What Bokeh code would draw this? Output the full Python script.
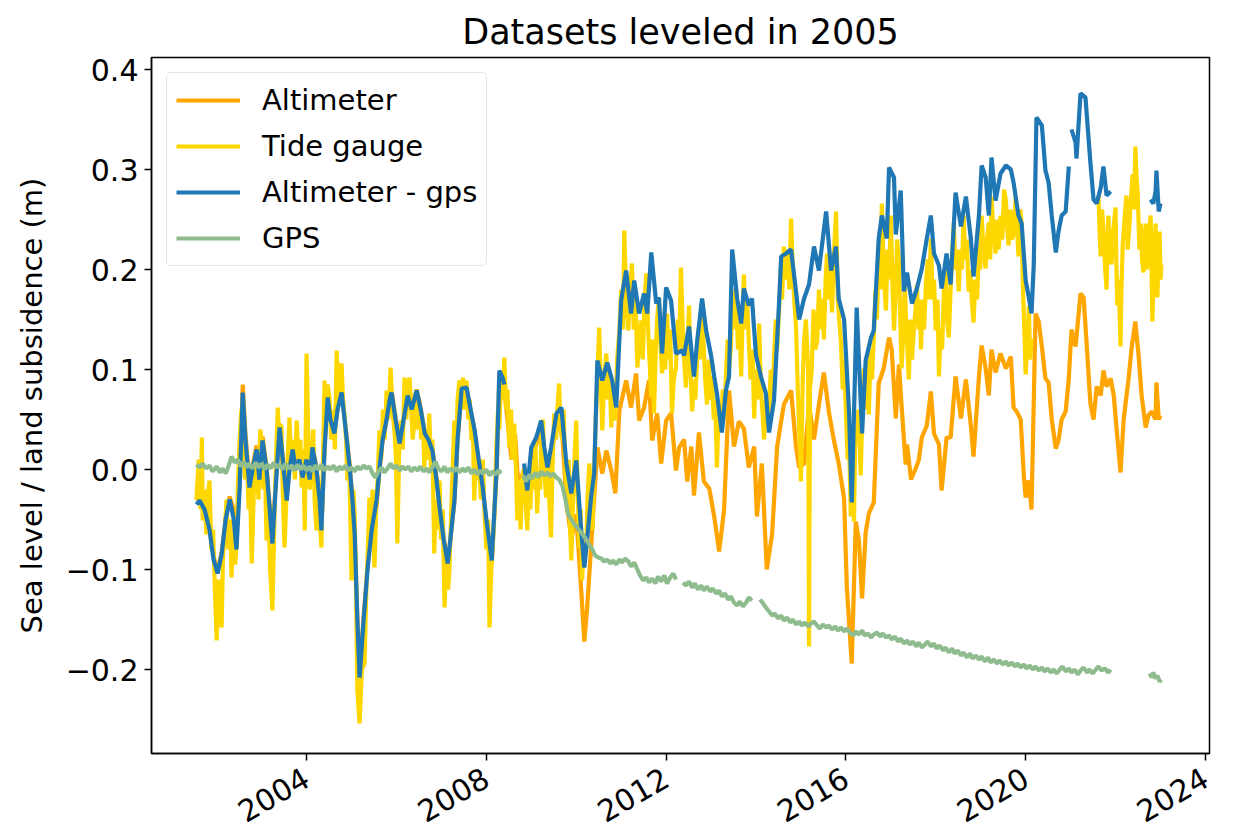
import math
from bokeh.plotting import figure
from bokeh.models import FixedTicker, CustomJSTickFormatter, Range1d, Legend, LegendItem
from bokeh.embed import file_html
from bokeh.resources import INLINE

nan = float("nan")

# ---------------- data (decimal years, metres) ----------------
alt_gps_years = [
    2001.55, 2001.62, 2001.73, 2001.84, 2001.93, 2002.02, 2002.11, 2002.20, 2002.29, 2002.38,
    2002.44, 2002.51, 2002.58, 2002.64, 2002.73, 2002.80, 2002.89, 2002.95, 2003.02, 2003.11,
    2003.18, 2003.24, 2003.31, 2003.40, 2003.47, 2003.56, 2003.62, 2003.69, 2003.76, 2003.84,
    2003.91, 2004.00, 2004.07, 2004.13, 2004.22, 2004.29, 2004.33, 2004.40, 2004.47, 2004.53,
    2004.62, 2004.69, 2004.78, 2004.87, 2004.96, 2005.02, 2005.07, 2005.13, 2005.18, 2005.27,
    2005.36, 2005.45, 2005.56, 2005.62, 2005.69, 2005.78, 2005.85, 2005.89, 2005.98, 2006.07,
    2006.16, 2006.25, 2006.34, 2006.45, 2006.54, 2006.63, 2006.71, 2006.80, 2006.89, 2006.96,
    2007.05, 2007.14, 2007.20, 2007.29, 2007.36, 2007.45, 2007.56, 2007.65, 2007.74, 2007.83,
    2007.92, 2008.00, 2008.12, 2008.18, 2008.23, 2008.29, 2008.36, 2008.40, 2008.60,
    2008.84, 2008.91, 2009.00, 2009.11, 2009.22, 2009.29, 2009.36, 2009.44, 2009.56, 2009.67,
    2009.78, 2009.89, 2010.00, 2010.11, 2010.18, 2010.24, 2010.33, 2010.40, 2010.47, 2010.58,
    2010.69, 2010.80, 2010.89, 2011.00, 2011.11, 2011.22, 2011.29, 2011.40, 2011.51, 2011.58,
    2011.67, 2011.78, 2011.84, 2011.91, 2012.00, 2012.11, 2012.22, 2012.36, 2012.40, 2012.51,
    2012.62, 2012.69, 2012.80, 2012.89, 2013.00, 2013.07, 2013.13, 2013.24, 2013.33, 2013.40,
    2013.47, 2013.58, 2013.67, 2013.73, 2013.84, 2013.91, 2014.00, 2014.11, 2014.22, 2014.29,
    2014.40, 2014.51, 2014.56, 2014.67, 2014.78, 2014.89, 2014.96, 2015.07, 2015.18, 2015.29,
    2015.40, 2015.56, 2015.67, 2015.78, 2015.84, 2015.96, 2016.07, 2016.13, 2016.24, 2016.36,
    2016.44, 2016.56, 2016.62, 2016.73, 2016.80, 2016.91, 2016.96, 2017.07, 2017.11, 2017.22,
    2017.29, 2017.36, 2017.47, 2017.58, 2017.69, 2017.80, 2017.89, 2017.96, 2018.07, 2018.13,
    2018.24, 2018.33, 2018.44, 2018.56, 2018.67, 2018.78, 2018.84, 2018.96, 2019.02, 2019.11,
    2019.18, 2019.24, 2019.33, 2019.44, 2019.56, 2019.67, 2019.73, 2019.84, 2019.91, 2020.00,
    2020.07, 2020.13, 2020.18, 2020.24, 2020.36, 2020.44, 2020.51, 2020.58, 2020.67, 2020.73,
    2020.80, 2020.89, 2020.96, 2020.99,
    2021.02, 2021.11, 2021.13, 2021.22, 2021.33, 2021.44, 2021.51, 2021.58, 2021.67, 2021.73,
    2021.80, 2021.89, 2022.30,
    2022.78, 2022.84, 2022.89, 2022.91, 2022.96, 2023.00,
]
alt_gps_vals = [
    -0.035, -0.031, -0.040, -0.060, -0.090, -0.104, -0.085, -0.050, -0.030, -0.050,
    -0.080, -0.020, 0.077, 0.030, -0.018, 0.000, 0.020, -0.010, 0.029, 0.000,
    -0.040, -0.074, -0.020, 0.042, 0.010, -0.031, 0.000, 0.020, 0.000, 0.010,
    -0.008, 0.010, -0.010, 0.022, 0.000, -0.030, -0.061, 0.020, 0.072, 0.050,
    0.036, 0.060, 0.077, 0.040, 0.002, -0.030, -0.064, -0.150, -0.208, -0.150,
    -0.098, -0.060, -0.030, 0.000, 0.029, 0.050, 0.070, 0.077, 0.050, 0.026,
    0.050, 0.074, 0.060, 0.079, 0.060, 0.036, 0.030, 0.019, -0.010, -0.038,
    -0.070, -0.094, -0.070, -0.031, 0.030, 0.081, 0.082, 0.060, 0.039, 0.010,
    -0.018, -0.050, -0.091, -0.040, 0.002, 0.099, 0.092, 0.085, nan,
    0.006, -0.021, 0.022, 0.032, 0.049, 0.022, 0.002, 0.022, 0.056, 0.062,
    0.006, -0.024, 0.009, -0.061, -0.098, -0.071, -0.028, -0.004, 0.109, 0.089,
    0.107, 0.089, 0.062, 0.169, 0.199, 0.156, 0.189, 0.156, 0.176, 0.156,
    0.217, 0.166, 0.172, 0.116, 0.182, 0.169, 0.116, 0.119, 0.114, 0.143,
    0.093, 0.128, 0.171, 0.139, 0.114, 0.093, 0.076, 0.037, 0.079, 0.093,
    0.220, 0.171, 0.146, 0.181, 0.164, 0.171, 0.114, 0.093, 0.076, 0.037,
    0.069, 0.164, 0.213, 0.216, 0.220, 0.178, 0.150, 0.171, 0.185, 0.223,
    0.199, 0.258, 0.199, 0.223, 0.171, 0.150, 0.058, -0.033, 0.162, 0.036,
    0.109, 0.132, 0.139, 0.231, 0.254, 0.231, 0.302, 0.292, 0.235, 0.279,
    0.178, 0.197, 0.166, 0.181, 0.201, 0.231, 0.254, 0.216, 0.204, 0.181,
    0.216, 0.185, 0.277, 0.243, 0.273, 0.231, 0.193, 0.254, 0.304, 0.292,
    0.254, 0.312, 0.269, 0.296, 0.304, 0.300, 0.287, 0.254, 0.246, 0.189,
    0.172, 0.156, 0.205, 0.352, 0.344, 0.299, 0.287, 0.254, 0.217, 0.238,
    0.254, 0.258, 0.303, nan,
    0.340, 0.327, 0.311, 0.376, 0.372, 0.307, 0.270, 0.266, 0.282, 0.303,
    0.274, 0.278, nan,
    0.270, 0.266, 0.278, 0.299, 0.258, 0.266,
]

altimeter_years = [
    2001.55, 2001.62, 2001.73, 2001.84, 2001.93, 2002.02, 2002.11, 2002.20, 2002.29, 2002.38,
    2002.44, 2002.51, 2002.58, 2002.64, 2002.73, 2002.80, 2002.89, 2002.95, 2003.02, 2003.11,
    2003.18, 2003.24, 2003.31, 2003.40, 2003.47, 2003.56, 2003.62, 2003.69, 2003.76, 2003.84,
    2003.91, 2004.00, 2004.07, 2004.13, 2004.22, 2004.29, 2004.33, 2004.40, 2004.47, 2004.53,
    2004.62, 2004.69, 2004.78, 2004.87, 2004.96, 2005.02, 2005.07, 2005.13, 2005.18, 2005.27,
    2005.36, 2005.45, 2005.56, 2005.62, 2005.69, 2005.78, 2005.85, 2005.89, 2005.98, 2006.07,
    2006.16, 2006.25, 2006.34, 2006.45, 2006.54, 2006.63, 2006.71, 2006.80, 2006.89, 2006.96,
    2007.05, 2007.14, 2007.20, 2007.29, 2007.36, 2007.45, 2007.56, 2007.65, 2007.74, 2007.83,
    2007.92, 2008.00, 2008.12, 2008.18, 2008.23, 2008.29, 2008.36, 2008.40, 2008.47, 2008.56,
    2008.64, 2008.73, 2008.80,
    2008.84, 2008.91, 2009.00, 2009.11, 2009.22, 2009.29, 2009.36, 2009.44, 2009.56, 2009.67,
    2009.78, 2009.89, 2010.00, 2010.11, 2010.18, 2010.24, 2010.33, 2010.47, 2010.58, 2010.67,
    2010.78, 2010.87, 2010.96, 2011.11, 2011.22, 2011.33, 2011.40, 2011.51, 2011.62, 2011.69,
    2011.80, 2011.89, 2012.00, 2012.11, 2012.22, 2012.29, 2012.40, 2012.47, 2012.56, 2012.62,
    2012.73, 2012.84, 2012.96, 2013.07, 2013.18, 2013.29, 2013.40, 2013.51, 2013.62, 2013.73,
    2013.84, 2013.96, 2014.02, 2014.13, 2014.24, 2014.36, 2014.47, 2014.62, 2014.78, 2014.89,
    2014.96, 2015.07, 2015.18, 2015.29, 2015.40, 2015.51, 2015.62, 2015.73, 2015.84, 2015.96,
    2016.02, 2016.13, 2016.22, 2016.29, 2016.36, 2016.44, 2016.51, 2016.62, 2016.73, 2016.84,
    2016.96, 2017.02, 2017.11, 2017.18, 2017.24, 2017.33, 2017.36, 2017.45, 2017.56, 2017.62,
    2017.69, 2017.80, 2017.89, 2017.96, 2018.07, 2018.13, 2018.24, 2018.33, 2018.44, 2018.56,
    2018.67, 2018.78, 2018.84, 2018.96, 2019.02, 2019.11, 2019.18, 2019.24, 2019.33, 2019.44,
    2019.56, 2019.67, 2019.73, 2019.80, 2019.89, 2019.96, 2020.00, 2020.07, 2020.13, 2020.22,
    2020.29, 2020.36, 2020.44, 2020.51, 2020.58, 2020.67, 2020.73, 2020.80, 2020.89, 2020.96,
    2021.02, 2021.11, 2021.18, 2021.22, 2021.29, 2021.36, 2021.44, 2021.51, 2021.58, 2021.67,
    2021.73, 2021.80, 2021.89, 2021.96, 2022.02, 2022.11, 2022.18, 2022.29, 2022.36, 2022.44,
    2022.51, 2022.58, 2022.67, 2022.73, 2022.80, 2022.89, 2022.91, 2022.96, 2023.00,
]
altimeter_vals = [
    -0.031, -0.028, -0.036, -0.057, -0.087, -0.101, -0.083, -0.049, -0.027, -0.040,
    -0.070, -0.012, 0.085, 0.036, -0.013, 0.004, 0.024, -0.006, 0.033, 0.003,
    -0.037, -0.070, -0.016, 0.046, 0.013, -0.027, 0.003, 0.023, 0.003, 0.013,
    -0.005, 0.012, -0.008, 0.024, 0.002, -0.028, -0.059, 0.022, 0.074, 0.052,
    0.038, 0.061, 0.078, 0.042, 0.003, -0.028, -0.062, -0.148, -0.206, -0.147,
    -0.095, -0.058, -0.035, -0.002, 0.028, 0.050, 0.072, 0.080, 0.052, 0.028,
    0.052, 0.076, 0.060, 0.080, 0.061, 0.037, 0.031, 0.020, -0.008, -0.037,
    -0.068, -0.094, -0.070, -0.032, 0.029, 0.080, 0.081, 0.058, 0.038, 0.008,
    -0.021, -0.052, -0.094, -0.044, -0.002, 0.096, 0.089, 0.080, 0.050, 0.010,
    0.035, -0.030, -0.005,
    0.000, -0.030, 0.010, 0.025, 0.040, 0.015, -0.005, 0.015, 0.045, 0.050,
    -0.030, -0.070, -0.045, -0.120, -0.172, -0.140, -0.078, 0.022, -0.004, 0.019,
    -0.001, -0.024, 0.059, 0.089, 0.062, 0.096, 0.049, 0.062, 0.089, 0.029,
    0.056, 0.006, 0.049, 0.056, -0.001, 0.022, 0.030, -0.012, 0.023, -0.026,
    0.037, -0.012, -0.019, -0.047, -0.082, -0.040, 0.079, 0.023, 0.048, 0.041,
    0.002, 0.023, -0.047, 0.006, -0.100, -0.064, 0.023, 0.065, 0.079, 0.023,
    0.002, 0.006, 0.065, 0.030, 0.065, 0.097, 0.058, 0.030, 0.006, -0.029,
    -0.117, -0.194, -0.052, -0.071, -0.129, -0.063, -0.044, -0.033, 0.086, 0.101,
    0.132, 0.120, 0.051, 0.105, 0.063, 0.005, 0.025, -0.010, 0.002, 0.009,
    0.032, 0.044, 0.078, 0.036, 0.025, -0.021, 0.032, 0.032, 0.093, 0.051,
    0.090, 0.044, 0.013, 0.093, 0.124, 0.101, 0.074, 0.120, 0.097, 0.116,
    0.101, 0.113, 0.062, 0.058, 0.050, -0.007, -0.028, -0.011, -0.040, 0.156,
    0.148, 0.123, 0.091, 0.087, 0.050, 0.021, 0.029, 0.050, 0.058, 0.091,
    0.140, 0.123, 0.156, 0.176, 0.172, 0.123, 0.066, 0.050, 0.083, 0.074,
    0.099, 0.083, 0.091, 0.074, 0.042, -0.003, 0.050, 0.091, 0.123, 0.148,
    0.115, 0.074, 0.042, 0.054, 0.058, 0.050, 0.087, 0.050, 0.054,
]

# tide gauge: (decimal year, metres)
tide_gauge = [
    (2001.55, -0.030), (2001.60, 0.010), (2001.64, -0.040), (2001.67, 0.032), (2001.69, -0.051),
    (2001.73, -0.020), (2001.77, -0.065), (2001.80, -0.030), (2001.84, -0.011), (2001.88, -0.080),
    (2001.92, -0.060), (2001.96, -0.120), (2002.00, -0.171), (2002.04, -0.110), (2002.07, -0.140),
    (2002.11, -0.158), (2002.14, -0.090), (2002.18, -0.061), (2002.22, -0.030), (2002.26, -0.080),
    (2002.30, -0.050), (2002.33, -0.108), (2002.37, -0.060), (2002.41, -0.095), (2002.44, -0.078),
    (2002.47, -0.020), (2002.51, 0.029), (2002.55, 0.060), (2002.59, 0.030), (2002.63, -0.010),
    (2002.67, 0.019), (2002.71, -0.040), (2002.74, -0.010), (2002.78, -0.094), (2002.82, -0.030),
    (2002.85, 0.010), (2002.89, 0.002), (2002.93, -0.030), (2002.97, 0.040), (2003.00, 0.029),
    (2003.04, -0.020), (2003.07, 0.010), (2003.11, -0.071), (2003.15, -0.040), (2003.19, -0.100),
    (2003.24, -0.141), (2003.28, -0.060), (2003.32, 0.010), (2003.36, 0.062), (2003.40, 0.020),
    (2003.44, 0.045), (2003.47, -0.020), (2003.51, -0.078), (2003.55, -0.030), (2003.58, 0.010),
    (2003.62, 0.052), (2003.66, 0.000), (2003.70, 0.030), (2003.74, -0.010), (2003.78, 0.049),
    (2003.82, 0.010), (2003.86, 0.030), (2003.89, -0.018), (2003.93, 0.020), (2003.96, -0.061),
    (2004.00, 0.116), (2004.04, 0.030), (2004.07, -0.020), (2004.11, 0.009), (2004.15, 0.040),
    (2004.18, -0.030), (2004.22, -0.061), (2004.26, -0.010), (2004.29, -0.050), (2004.33, -0.078),
    (2004.37, 0.020), (2004.40, 0.089), (2004.44, 0.050), (2004.47, 0.085), (2004.51, 0.072),
    (2004.55, 0.030), (2004.59, 0.060), (2004.63, 0.020), (2004.67, 0.119), (2004.71, 0.070),
    (2004.74, 0.100), (2004.78, 0.106), (2004.81, 0.070), (2004.84, 0.056), (2004.88, 0.030),
    (2004.91, -0.011), (2004.95, 0.010), (2005.00, -0.111), (2005.04, -0.020), (2005.07, -0.044),
    (2005.10, -0.120), (2005.13, -0.221), (2005.18, -0.254), (2005.23, -0.200), (2005.29, -0.194),
    (2005.33, -0.120), (2005.37, -0.070), (2005.40, -0.028), (2005.44, -0.060), (2005.47, -0.020),
    (2005.51, -0.098), (2005.55, -0.040), (2005.59, 0.000), (2005.62, 0.039), (2005.66, 0.010),
    (2005.70, 0.060), (2005.74, 0.030), (2005.78, 0.079), (2005.82, 0.050), (2005.87, 0.102),
    (2005.91, 0.060), (2005.96, 0.036), (2005.99, 0.010), (2006.02, -0.074), (2006.06, 0.020),
    (2006.11, 0.049), (2006.14, 0.020), (2006.18, 0.092), (2006.22, 0.050), (2006.25, 0.080),
    (2006.29, 0.092), (2006.33, 0.060), (2006.36, 0.030), (2006.40, 0.049), (2006.44, 0.080),
    (2006.47, 0.040), (2006.51, 0.069), (2006.55, 0.030), (2006.59, 0.050), (2006.62, 0.002),
    (2006.66, 0.040), (2006.70, 0.010), (2006.73, 0.056), (2006.77, 0.000), (2006.80, 0.030),
    (2006.84, -0.084), (2006.88, -0.030), (2006.92, -0.060), (2006.96, -0.011), (2006.99, -0.070),
    (2007.03, -0.040), (2007.07, -0.138), (2007.11, -0.080), (2007.15, -0.120), (2007.18, -0.098),
    (2007.22, -0.040), (2007.25, 0.000), (2007.29, 0.049), (2007.33, 0.020), (2007.36, 0.070),
    (2007.40, 0.089), (2007.44, 0.060), (2007.48, 0.092), (2007.52, 0.060), (2007.56, 0.089),
    (2007.60, 0.050), (2007.63, 0.070), (2007.67, 0.029), (2007.70, 0.050), (2007.73, -0.031),
    (2007.77, 0.020), (2007.80, -0.010), (2007.84, 0.002), (2007.88, -0.030), (2007.92, 0.010),
    (2007.96, -0.044), (2008.00, -0.080), (2008.04, -0.050), (2008.07, -0.158), (2008.11, -0.100),
    (2008.15, -0.070), (2008.18, -0.044), (2008.22, 0.020), (2008.26, 0.060), (2008.29, 0.040),
    (2008.33, 0.099), (2008.37, 0.070), (2008.40, 0.112), (2008.44, 0.060), (2008.47, 0.080),
    (2008.51, 0.022), (2008.55, 0.060), (2008.58, 0.010), (2008.62, 0.046), (2008.66, 0.000),
    (2008.69, -0.051), (2008.73, -0.010), (2008.76, -0.060), (2008.80, -0.011), (2008.84, 0.002),
    (2008.87, -0.030), (2008.91, -0.061), (2008.95, -0.010), (2008.98, -0.040), (2009.02, 0.012),
    (2009.06, -0.020), (2009.09, 0.030), (2009.13, -0.044), (2009.17, 0.000), (2009.20, -0.020),
    (2009.22, 0.029), (2009.26, 0.050), (2009.29, 0.000), (2009.33, -0.028), (2009.37, 0.010),
    (2009.40, -0.030), (2009.44, -0.068), (2009.47, 0.000), (2009.51, 0.056), (2009.55, 0.030),
    (2009.58, 0.060), (2009.62, 0.086), (2009.65, 0.040), (2009.69, 0.029), (2009.72, 0.060),
    (2009.76, 0.000), (2009.80, -0.044), (2009.83, 0.010), (2009.86, -0.050), (2009.89, -0.091),
    (2009.93, -0.030), (2009.96, 0.010), (2010.00, 0.049), (2010.03, -0.020), (2010.07, -0.078),
    (2010.10, -0.040), (2010.13, -0.111), (2010.17, -0.070), (2010.22, -0.084), (2010.25, -0.030),
    (2010.29, 0.006), (2010.33, -0.020), (2010.36, -0.061), (2010.40, 0.000), (2010.44, 0.056),
    (2010.47, 0.090), (2010.51, 0.142), (2010.55, 0.080), (2010.58, 0.039), (2010.62, 0.090),
    (2010.67, 0.116), (2010.70, 0.070), (2010.74, 0.100), (2010.78, 0.042), (2010.82, 0.080),
    (2010.87, 0.049), (2010.91, 0.110), (2010.96, 0.139), (2011.00, 0.180), (2011.04, 0.140),
    (2011.07, 0.239), (2011.11, 0.170), (2011.16, 0.139), (2011.20, 0.180), (2011.24, 0.206),
    (2011.28, 0.140), (2011.32, 0.170), (2011.36, 0.102), (2011.40, 0.130), (2011.44, 0.149),
    (2011.48, 0.110), (2011.52, 0.170), (2011.56, 0.196), (2011.60, 0.140), (2011.63, 0.110),
    (2011.67, 0.072), (2011.70, 0.130), (2011.73, 0.056), (2011.77, 0.120), (2011.80, 0.150),
    (2011.84, 0.172), (2011.88, 0.120), (2011.91, 0.096), (2011.95, 0.140), (2011.98, 0.100),
    (2012.02, 0.156), (2012.06, 0.110), (2012.09, 0.140), (2012.13, 0.056), (2012.17, 0.090),
    (2012.22, 0.102), (2012.26, 0.150), (2012.29, 0.120), (2012.33, 0.202), (2012.37, 0.140),
    (2012.40, 0.110), (2012.44, 0.082), (2012.47, 0.120), (2012.51, 0.164), (2012.54, 0.100),
    (2012.58, 0.058), (2012.62, 0.090), (2012.65, 0.070), (2012.69, 0.111), (2012.73, 0.140),
    (2012.76, 0.110), (2012.80, 0.157), (2012.84, 0.120), (2012.87, 0.090), (2012.91, 0.065),
    (2012.95, 0.110), (2012.98, 0.070), (2013.02, 0.093), (2013.06, 0.050), (2013.09, 0.070),
    (2013.13, 0.002), (2013.17, 0.060), (2013.22, 0.041), (2013.26, 0.080), (2013.29, 0.050),
    (2013.33, 0.093), (2013.37, 0.130), (2013.40, 0.100), (2013.44, 0.121), (2013.48, 0.180),
    (2013.52, 0.140), (2013.56, 0.171), (2013.60, 0.120), (2013.63, 0.150), (2013.67, 0.093),
    (2013.70, 0.150), (2013.73, 0.195), (2013.77, 0.140), (2013.80, 0.170), (2013.84, 0.128),
    (2013.88, 0.090), (2013.92, 0.120), (2013.96, 0.051), (2014.00, 0.100), (2014.03, 0.070),
    (2014.07, 0.146), (2014.11, 0.080), (2014.14, 0.060), (2014.18, 0.030), (2014.22, 0.070),
    (2014.25, 0.040), (2014.29, 0.065), (2014.33, 0.100), (2014.36, 0.060), (2014.40, 0.111),
    (2014.44, 0.150), (2014.47, 0.120), (2014.51, 0.157), (2014.55, 0.200), (2014.58, 0.170),
    (2014.62, 0.223), (2014.66, 0.190), (2014.70, 0.220), (2014.74, 0.180), (2014.78, 0.251),
    (2014.82, 0.200), (2014.85, 0.170), (2014.89, 0.143), (2014.93, 0.080), (2014.96, 0.040),
    (2015.00, -0.012), (2015.04, 0.090), (2015.07, 0.128), (2015.11, 0.150), (2015.16, 0.100),
    (2015.18, -0.177), (2015.20, 0.080), (2015.24, 0.100), (2015.28, 0.160), (2015.32, 0.120),
    (2015.36, 0.128), (2015.40, 0.180), (2015.44, 0.140), (2015.47, 0.171), (2015.51, 0.130),
    (2015.55, 0.190), (2015.58, 0.216), (2015.62, 0.170), (2015.65, 0.200), (2015.69, 0.157),
    (2015.73, 0.210), (2015.78, 0.258), (2015.82, 0.170), (2015.85, 0.150), (2015.89, 0.128),
    (2015.93, 0.080), (2015.96, 0.110), (2016.00, 0.058), (2016.04, 0.010), (2016.07, 0.030),
    (2016.11, -0.047), (2016.15, 0.000), (2016.18, -0.052), (2016.21, 0.040), (2016.24, 0.025),
    (2016.28, 0.060), (2016.33, -0.006), (2016.36, 0.050), (2016.40, 0.101), (2016.44, 0.060),
    (2016.47, 0.110), (2016.51, 0.055), (2016.55, 0.120), (2016.58, 0.090), (2016.62, 0.132),
    (2016.66, 0.180), (2016.69, 0.150), (2016.73, 0.216), (2016.77, 0.180), (2016.80, 0.266),
    (2016.84, 0.200), (2016.89, 0.159), (2016.93, 0.220), (2016.96, 0.190), (2017.00, 0.254),
    (2017.04, 0.180), (2017.07, 0.139), (2017.11, 0.180), (2017.14, 0.230), (2017.18, 0.208),
    (2017.21, 0.150), (2017.24, 0.101), (2017.28, 0.140), (2017.31, 0.190), (2017.33, 0.159),
    (2017.37, 0.120), (2017.40, 0.090), (2017.44, 0.150), (2017.47, 0.110), (2017.51, 0.139),
    (2017.55, 0.160), (2017.58, 0.185), (2017.62, 0.140), (2017.65, 0.170), (2017.67, 0.120),
    (2017.71, 0.170), (2017.74, 0.140), (2017.78, 0.185), (2017.82, 0.210), (2017.85, 0.170),
    (2017.89, 0.231), (2017.93, 0.170), (2017.96, 0.190), (2018.00, 0.139), (2018.04, 0.170),
    (2018.07, 0.093), (2018.11, 0.140), (2018.14, 0.120), (2018.18, 0.178), (2018.22, 0.200),
    (2018.25, 0.150), (2018.29, 0.132), (2018.33, 0.180), (2018.36, 0.210), (2018.40, 0.247),
    (2018.44, 0.200), (2018.47, 0.220), (2018.51, 0.178), (2018.55, 0.220), (2018.58, 0.200),
    (2018.62, 0.254), (2018.66, 0.210), (2018.69, 0.230), (2018.73, 0.178), (2018.77, 0.200),
    (2018.80, 0.170), (2018.84, 0.147), (2018.88, 0.190), (2018.92, 0.170), (2018.96, 0.224),
    (2018.99, 0.200), (2019.02, 0.254), (2019.06, 0.220), (2019.11, 0.201), (2019.14, 0.230),
    (2019.18, 0.247), (2019.21, 0.210), (2019.24, 0.273), (2019.28, 0.240), (2019.33, 0.216),
    (2019.37, 0.250), (2019.40, 0.220), (2019.44, 0.254), (2019.48, 0.230), (2019.52, 0.280),
    (2019.56, 0.269), (2019.59, 0.240), (2019.62, 0.224), (2019.66, 0.260), (2019.69, 0.230),
    (2019.73, 0.235), (2019.78, 0.274), (2019.81, 0.240), (2019.84, 0.213), (2019.88, 0.260),
    (2019.91, 0.246), (2019.94, 0.180), (2019.97, 0.140), (2020.00, 0.095), (2020.04, 0.130),
    (2020.07, 0.164), (2020.10, 0.110), (2020.13, 0.131), (2020.90, nan),
    (2021.62, 0.274), (2021.65, 0.230), (2021.67, 0.213), (2021.70, 0.260), (2021.73, 0.238),
    (2021.77, 0.200), (2021.80, 0.180), (2021.82, 0.230), (2021.84, 0.254), (2021.87, 0.220),
    (2021.91, 0.205), (2021.95, 0.240), (2022.00, 0.262), (2022.02, 0.200), (2022.04, 0.164),
    (2022.07, 0.190), (2022.11, 0.123), (2022.13, 0.180), (2022.16, 0.225), (2022.20, 0.250),
    (2022.24, 0.274), (2022.27, 0.220), (2022.31, 0.246), (2022.34, 0.270), (2022.38, 0.295),
    (2022.41, 0.260), (2022.44, 0.323), (2022.47, 0.290), (2022.49, 0.278), (2022.53, 0.220),
    (2022.56, 0.246), (2022.59, 0.210), (2022.62, 0.197), (2022.65, 0.230), (2022.67, 0.246),
    (2022.69, 0.200), (2022.71, 0.205), (2022.75, 0.240), (2022.78, 0.254), (2022.80, 0.200),
    (2022.82, 0.148), (2022.85, 0.200), (2022.89, 0.246), (2022.91, 0.200), (2022.93, 0.172),
    (2022.96, 0.220), (2022.98, 0.238), (2023.00, 0.190), (2023.02, 0.205),
]
tide_years = [t for t, v in tide_gauge]
tide_vals = [v for t, v in tide_gauge]

gps_years = [
    2001.55, 2001.62, 2001.69, 2001.76, 2001.84, 2001.91, 2002.00, 2002.07, 2002.13, 2002.20,
    2002.27, 2002.33, 2002.40, 2002.47, 2002.53, 2002.60, 2002.67, 2002.73, 2002.80, 2002.87,
    2002.93, 2003.00, 2003.07, 2003.13, 2003.20, 2003.27, 2003.33, 2003.40, 2003.47, 2003.53,
    2003.60, 2003.67, 2003.73, 2003.80, 2003.87, 2003.93, 2004.00, 2004.07, 2004.13, 2004.20,
    2004.27, 2004.33, 2004.40, 2004.47, 2004.53, 2004.60, 2004.67, 2004.73, 2004.80, 2004.87,
    2004.93, 2005.00, 2005.07, 2005.13, 2005.20, 2005.27, 2005.33, 2005.40, 2005.47, 2005.53,
    2005.60, 2005.67, 2005.73, 2005.80, 2005.87, 2005.93, 2006.00, 2006.07, 2006.13, 2006.20,
    2006.27, 2006.33, 2006.40, 2006.47, 2006.53, 2006.60, 2006.67, 2006.73, 2006.80, 2006.87,
    2006.93, 2007.00, 2007.07, 2007.13, 2007.20, 2007.27, 2007.33, 2007.40, 2007.47, 2007.53,
    2007.60, 2007.67, 2007.73, 2007.80, 2007.87, 2007.93, 2008.00, 2008.07, 2008.13, 2008.20,
    2008.27, 2008.33, 2008.58,
    2008.82, 2008.89, 2008.96, 2009.02, 2009.09, 2009.16, 2009.22, 2009.29, 2009.36, 2009.42,
    2009.49, 2009.56, 2009.62, 2009.69, 2009.76, 2009.82, 2009.89, 2009.96, 2010.02, 2010.09,
    2010.16, 2010.22, 2010.29, 2010.36, 2010.42, 2010.49, 2010.56, 2010.62, 2010.69, 2010.76,
    2010.82, 2010.89, 2010.96, 2011.02, 2011.09, 2011.16, 2011.22, 2011.29, 2011.36, 2011.42,
    2011.49, 2011.56, 2011.62, 2011.69, 2011.76, 2011.82, 2011.89, 2011.96, 2012.02, 2012.09,
    2012.16, 2012.22, 2012.30,
    2012.38, 2012.44, 2012.51, 2012.58, 2012.64, 2012.71, 2012.78, 2012.84, 2012.91, 2012.98,
    2013.04, 2013.11, 2013.18, 2013.24, 2013.31, 2013.38, 2013.44, 2013.51, 2013.58, 2013.64,
    2013.71, 2013.78, 2013.84, 2013.91, 2014.00,
    2014.09, 2014.16, 2014.22, 2014.29, 2014.36, 2014.42, 2014.49, 2014.56, 2014.62, 2014.69,
    2014.76, 2014.82, 2014.89, 2014.96, 2015.02, 2015.09, 2015.16, 2015.22, 2015.29, 2015.36,
    2015.42, 2015.49, 2015.56, 2015.62, 2015.69, 2015.76, 2015.82, 2015.89, 2015.96, 2016.02,
    2016.09, 2016.16, 2016.22, 2016.29, 2016.36, 2016.42, 2016.49, 2016.56, 2016.62, 2016.69,
    2016.76, 2016.82, 2016.89, 2016.96, 2017.02, 2017.09, 2017.16, 2017.22, 2017.29, 2017.36,
    2017.42, 2017.49, 2017.56, 2017.62, 2017.69, 2017.76, 2017.82, 2017.89, 2017.96, 2018.02,
    2018.09, 2018.16, 2018.22, 2018.29, 2018.36, 2018.42, 2018.49, 2018.56, 2018.62, 2018.69,
    2018.76, 2018.82, 2018.89, 2018.96, 2019.02, 2019.09, 2019.16, 2019.22, 2019.29, 2019.36,
    2019.42, 2019.49, 2019.56, 2019.62, 2019.69, 2019.76, 2019.82, 2019.89, 2019.96, 2020.02,
    2020.09, 2020.16, 2020.22, 2020.29, 2020.36, 2020.42, 2020.49, 2020.56, 2020.62, 2020.69,
    2020.76, 2020.82, 2020.89, 2020.96, 2021.02, 2021.09, 2021.16, 2021.22, 2021.29, 2021.36,
    2021.42, 2021.49, 2021.56, 2021.62, 2021.69, 2021.76, 2021.84, 2021.89, 2022.30,
    2022.76, 2022.80, 2022.84, 2022.89, 2022.93, 2022.98, 2023.02,
]
gps_vals = [
    0.005, 0.002, 0.006, 0.001, 0.004, -0.002, 0.003, -0.003, 0.001, -0.004,
    0.004, 0.013, 0.007, 0.010, 0.003, 0.008, 0.002, 0.006, 0.001, 0.007,
    0.002, 0.006, 0.000, 0.005, 0.001, 0.007, 0.002, 0.005, 0.000, 0.006,
    0.001, 0.004, -0.001, 0.005, 0.000, 0.004, -0.001, 0.003, -0.002, 0.004,
    0.000, 0.005, -0.001, 0.003, 0.000, 0.004, -0.002, 0.003, 0.000, 0.004,
    -0.001, 0.002, -0.002, 0.003, 0.000, 0.004, 0.001, 0.003, -0.004, -0.008,
    -0.002, 0.002, -0.003, 0.001, 0.006, 0.001, 0.004, -0.001, 0.003, 0.000,
    0.003, -0.002, 0.002, -0.001, 0.003, -0.002, 0.001, -0.003, 0.002, 0.008,
    0.001, -0.002, 0.003, -0.003, 0.001, -0.002, 0.002, -0.003, 0.001, -0.002,
    0.002, -0.004, 0.000, -0.005, -0.001, -0.004, 0.000, -0.006, -0.002, -0.005,
    -0.001, -0.004, nan,
    -0.006, -0.012, -0.005, -0.009, -0.003, -0.008, -0.002, -0.006, -0.003, -0.007,
    -0.004, -0.008, -0.010, -0.016, -0.030, -0.045, -0.050, -0.055, -0.058, -0.062,
    -0.066, -0.070, -0.075, -0.080, -0.086, -0.088, -0.089, -0.092, -0.090, -0.094,
    -0.091, -0.095, -0.090, -0.093, -0.089, -0.092, -0.097, -0.093, -0.100, -0.106,
    -0.111, -0.108, -0.113, -0.109, -0.114, -0.107, -0.112, -0.106, -0.114, -0.108,
    -0.104, -0.110, nan,
    -0.113, -0.116, -0.112, -0.118, -0.114, -0.120, -0.116, -0.121, -0.117, -0.122,
    -0.119, -0.124, -0.121, -0.127, -0.124, -0.130, -0.127, -0.133, -0.136, -0.132,
    -0.137, -0.133, -0.128, -0.131, nan,
    -0.130, -0.134, -0.138, -0.142, -0.146, -0.144, -0.149, -0.146, -0.151, -0.148,
    -0.153, -0.150, -0.155, -0.152, -0.156, -0.153, -0.157, -0.154, -0.152, -0.156,
    -0.159, -0.155, -0.158, -0.156, -0.160, -0.157, -0.161, -0.158, -0.162, -0.159,
    -0.163, -0.166, -0.162, -0.165, -0.161, -0.166, -0.164, -0.168, -0.165, -0.163,
    -0.167, -0.164, -0.168, -0.166, -0.170, -0.167, -0.172, -0.169, -0.174, -0.171,
    -0.175, -0.172, -0.177, -0.173, -0.178, -0.175, -0.172, -0.177, -0.174, -0.179,
    -0.176, -0.181, -0.178, -0.183, -0.179, -0.184, -0.181, -0.186, -0.183, -0.188,
    -0.184, -0.189, -0.186, -0.190, -0.187, -0.192, -0.188, -0.193, -0.190, -0.194,
    -0.191, -0.195, -0.192, -0.196, -0.193, -0.197, -0.194, -0.198, -0.195, -0.199,
    -0.196, -0.200, -0.197, -0.201, -0.198, -0.202, -0.199, -0.203, -0.200, -0.204,
    -0.200, -0.197, -0.202, -0.199, -0.203, -0.200, -0.205, -0.201, -0.198, -0.203,
    -0.200, -0.204, -0.200, -0.197, -0.201, -0.199, -0.203, -0.200, nan,
    -0.204, -0.208, -0.203, -0.209, -0.206, -0.212, -0.210,
]

series_labels = ["Altimeter", "Tide gauge", "Altimeter - gps", "GPS"]
series_colors = ["#FFA500", "#FFD700", "#1f77b4", "#8FBC8F"]
x_ticks = [2004, 2008, 2012, 2016, 2020, 2024]
y_ticks = [-0.2, -0.1, 0.0, 0.1, 0.2, 0.3, 0.4]

FONT = "DejaVu Sans"

p = figure(
    frame_width=1058, frame_height=696,
    x_range=Range1d(2000.55, 2024.09), y_range=Range1d(-0.284, 0.412),
    output_backend="svg", toolbar_location=None,
    min_border_left=151, min_border_top=57, min_border_right=10, min_border_bottom=72,
    background_fill_color="white", border_fill_color="white",
)

p.title.text = "Datasets leveled in 2005"
p.title.text_font = FONT
p.title.text_font_size = "35px"
p.title.text_font_style = "normal"
p.title.align = "center"
p.title.text_color = "black"
p.title.standoff = 12

p.xgrid.visible = False
p.ygrid.visible = False
p.outline_line_color = "black"
p.outline_line_width = 1.5
p.outline_line_alpha = 1.0

for ax in (p.xaxis[0], p.yaxis[0]):
    ax.major_label_text_font = FONT
    ax.major_label_text_font_size = "30px"
    ax.major_label_text_color = "black"
    ax.axis_line_color = "black"
    ax.axis_line_width = 1.5
    ax.major_tick_line_color = "black"
    ax.major_tick_line_width = 1.5
    ax.major_tick_out = 7
    ax.major_tick_in = 0
    ax.minor_tick_line_color = None

p.xaxis.ticker = FixedTicker(ticks=x_ticks)
p.xaxis.major_label_orientation = math.pi / 6
p.xaxis.major_label_standoff = 15

p.yaxis.ticker = FixedTicker(ticks=y_ticks)
p.yaxis.formatter = CustomJSTickFormatter(
    code="return tick.toFixed(1).replace('-', '\u2212');")
p.yaxis.major_label_standoff = 6
p.yaxis.axis_label = "Sea level / land subsidence (m)"
p.yaxis.axis_label_text_font = FONT
p.yaxis.axis_label_text_font_size = "29px"
p.yaxis.axis_label_text_font_style = "normal"
p.yaxis.axis_label_text_color = "black"
p.yaxis.axis_label_standoff = 14

LW = 4.2
r_alt = p.line(altimeter_years, altimeter_vals, color=series_colors[0], line_width=LW)
r_tide = p.line(tide_years, tide_vals, color=series_colors[1], line_width=LW)
r_diff = p.line(alt_gps_years, alt_gps_vals, color=series_colors[2], line_width=LW)
r_gps = p.line(gps_years, gps_vals, color=series_colors[3], line_width=LW)

legend = Legend(
    items=[LegendItem(label=lab, renderers=[r]) for lab, r in
           zip(series_labels, [r_alt, r_tide, r_diff, r_gps])],
    location="top_left",
)
legend.label_text_font = FONT
legend.label_text_font_size = "29px"
legend.label_text_color = "black"
legend.glyph_width = 64
legend.glyph_height = 36
legend.label_height = 36
legend.label_standoff = 22
legend.spacing = 10
legend.padding = 9
legend.margin = 15
legend.border_line_color = "#cccccc"
legend.border_line_width = 1.5
legend.background_fill_alpha = 0.8
legend.border_radius = 5
p.add_layout(legend)

open("out.html", "w").write(file_html(p, INLINE))
